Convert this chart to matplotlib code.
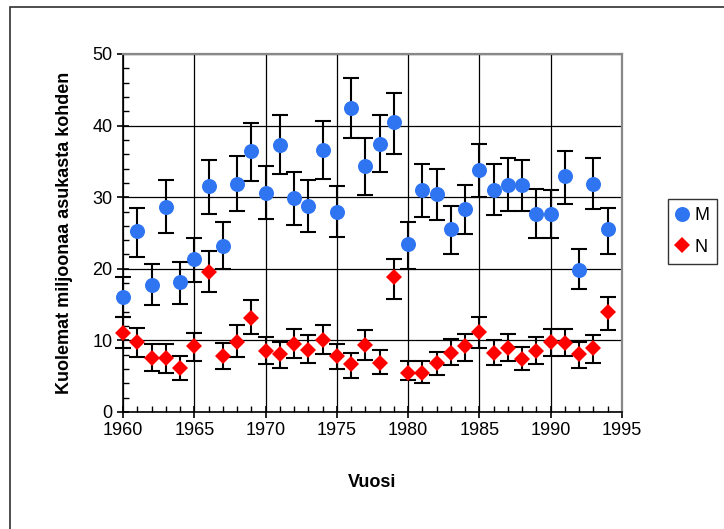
import numpy as np
import matplotlib.pyplot as plt
import matplotlib.patches as patches
from matplotlib.ticker import MultipleLocator

plt.rcParams['font.family'] = ['Liberation Sans', 'DejaVu Sans']

years = np.arange(1960, 1995)

# M series: value, upper and lower ends of the error bar
m_val = [16.1, 25.3, 17.8, 28.6, 18.1, 21.3, 31.5, 23.2, 31.9, 36.5,
         30.6, 37.3, 29.9, 28.8, 36.6, 27.9, 42.4, 34.4, 37.5, 40.5,
         23.5, 31.0, 30.4, 25.5, 28.4, 33.8, 31.0, 31.7, 31.7, 27.7,
         27.7, 32.9, 19.9, 31.9, 25.5]
m_hi = [18.8, 28.5, 20.7, 32.4, 21.0, 24.3, 35.2, 26.5, 35.7, 40.4,
        34.4, 41.5, 33.5, 32.4, 40.6, 31.5, 46.6, 38.2, 41.5, 44.6,
        26.5, 34.6, 33.9, 28.8, 31.7, 37.4, 34.6, 35.5, 35.2, 31.2,
        31.0, 36.4, 22.7, 35.5, 28.5]
m_lo = [13.3, 21.6, 14.9, 25.0, 15.1, 18.1, 27.7, 20.0, 28.1, 32.3,
        27.0, 33.2, 26.1, 25.2, 32.6, 24.5, 38.2, 30.3, 33.5, 36.1,
        20.0, 27.2, 26.8, 22.1, 24.8, 30.0, 27.5, 28.1, 28.1, 24.3,
        24.3, 29.1, 17.2, 28.4, 22.1]

# N series
n_val = [11.1, 9.8, 7.5, 7.5, 6.1, 9.2, 19.6, 7.8, 9.8, 13.1,
         8.5, 8.1, 9.5, 8.7, 10.1, 7.8, 6.7, 9.4, 6.9, 18.8,
         5.5, 5.5, 6.9, 8.2, 9.2, 11.2, 8.2, 8.9, 7.4, 8.5,
         9.8, 9.6, 8.1, 8.9, 13.9]
n_hi = [13.2, 11.8, 9.5, 9.5, 7.8, 11.1, 22.5, 9.6, 12.1, 15.6,
        10.5, 9.8, 11.6, 10.7, 12.1, 9.5, 8.2, 11.4, 8.7, 21.4,
        7.1, 7.1, 8.4, 10.2, 10.9, 13.2, 10.0, 10.9, 9.1, 10.5,
        11.6, 11.6, 9.8, 10.7, 16.1]
n_lo = [8.9, 7.7, 5.7, 5.5, 4.4, 7.1, 16.7, 6.0, 7.7, 10.9,
        6.7, 6.2, 7.6, 6.8, 8.1, 6.0, 4.8, 7.3, 5.3, 15.8,
        4.4, 4.1, 5.1, 6.5, 7.1, 8.9, 6.5, 7.1, 5.8, 6.7,
        7.8, 7.8, 6.2, 6.9, 11.4]

fig = plt.figure(figsize=(7.24, 5.29), dpi=100)
ax = fig.add_axes([123 / 724, 1 - 412 / 529, 499 / 724, 358 / 529])

# outer chart border
fig.patches.append(patches.Rectangle((10 / 724, -0.1), 1.2, 1 - 7 / 529 + 0.1,
                                     transform=fig.transFigure, fill=False,
                                     edgecolor='#303030', linewidth=1.2))

def draw_series(vals, hi, lo, marker, color, size, label):
    vals = np.array(vals)
    yerr = [vals - np.array(lo), np.array(hi) - vals]
    eb = ax.errorbar(years, vals, yerr=yerr, fmt='none', ecolor='black',
                     elinewidth=1.5, capsize=6, capthick=1.5, zorder=3)
    for art in eb.lines[1] + eb.lines[2]:
        art.set_clip_on(False)
    ax.plot(years, vals, linestyle='none', marker=marker, color=color,
            markersize=size, markeredgewidth=0, zorder=4, label=label,
            clip_on=False)

draw_series(m_val, m_hi, m_lo, 'o', '#2f75f2', 10.8, 'M')
draw_series(n_val, n_hi, n_lo, 'D', '#ff0000', 7.8, 'N')

ax.set_xlim(1960, 1995)
ax.set_ylim(0, 50)
ax.xaxis.set_major_locator(MultipleLocator(5))
ax.xaxis.set_minor_locator(MultipleLocator(1))
ax.yaxis.set_major_locator(MultipleLocator(10))
ax.yaxis.set_minor_locator(MultipleLocator(2))
ax.tick_params(which='major', direction='inout', length=9, width=1.2,
               labelsize=13, pad=3)
ax.tick_params(which='minor', direction='in', length=4, width=1.0)
ax.grid(True, which='major', color='black', linewidth=0.9, zorder=1)
ax.set_axisbelow(True)

for side in ['top', 'right']:
    ax.spines[side].set_color('#888888')
    ax.spines[side].set_linewidth(1.6)
for side in ['left', 'bottom']:
    ax.spines[side].set_color('black')
    ax.spines[side].set_linewidth(1.2)

ax.set_xlabel('Vuosi', fontsize=13, fontweight='bold', labelpad=25)
ax.set_ylabel('Kuolemat miljoonaa asukasta kohden', fontsize=13,
              fontweight='bold', labelpad=14)

leg = fig.legend(loc='upper left', bbox_to_anchor=(668 / 724, 1 - 199 / 529),
                 fontsize=13, frameon=True, fancybox=False, edgecolor='black',
                 handlelength=0.7, handletextpad=0.3, borderpad=0.45,
                 labelspacing=0.8, borderaxespad=0)
leg.get_frame().set_linewidth(1.0)

fig.savefig('out.png', dpi=100)
